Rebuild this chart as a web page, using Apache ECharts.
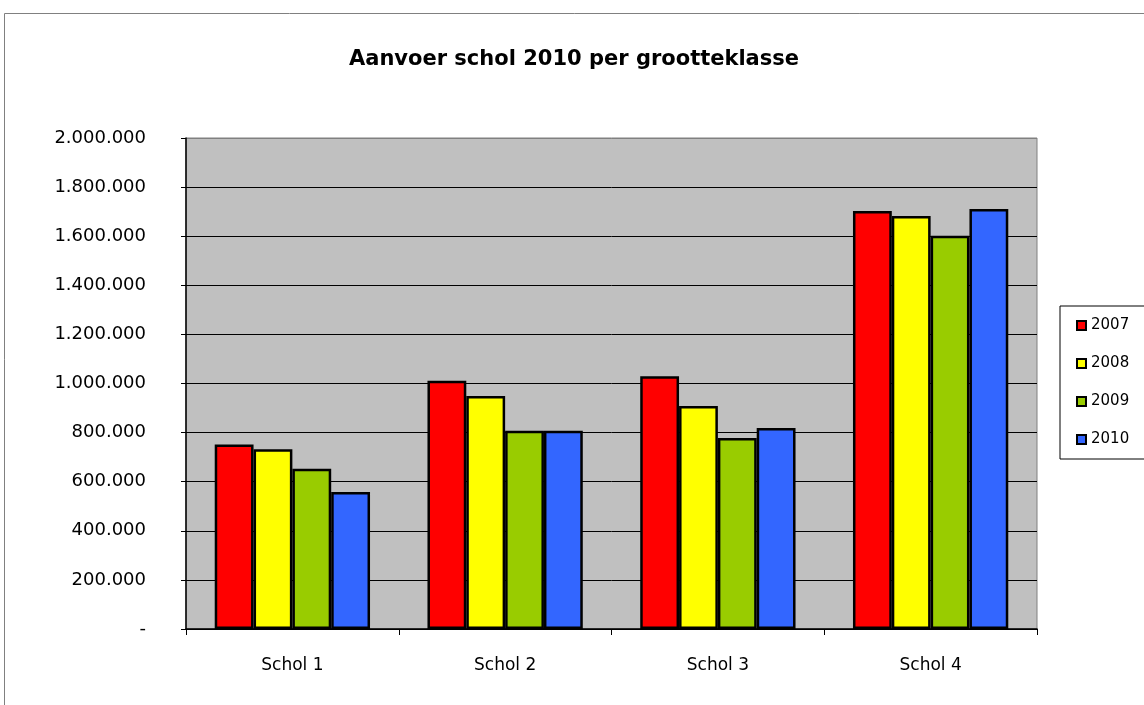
<!DOCTYPE html>
<html>
<head>
<meta charset="utf-8">
<script src="https://cdn.jsdelivr.net/npm/echarts@6/dist/echarts.min.js"></script>
<style>
html, body { margin: 0; padding: 0; background: #fff; }
#chart { width: 1144px; height: 705px; }
</style>
</head>
<body>
<div id="chart"></div>
<script>
var categories = ['Schol 1', 'Schol 2', 'Schol 3', 'Schol 4'];
var years = ['2007', '2008', '2009', '2010'];
var v2007 = [752000, 1011000, 1030000, 1703000];
var v2008 = [732000, 949000, 908000, 1682000];
var v2009 = [653000, 808000, 778000, 1602000];
var v2010 = [558000, 808000, 819000, 1711000];
var colors = ['#FF0000', '#FFFF00', '#99CC00', '#3366FF'];

var font = 'DejaVu Sans';
var values = [v2007, v2008, v2009, v2010];

// 1234567 -> "1.234.567", 0 -> "-"
function dutch(v) {
    if (v === 0) return '-';
    return String(v).replace(/\B(?=(\d{3})+(?!\d))/g, '.');
}

var series = [];
for (var i = 0; i < years.length; i++) {
    series.push({
        name: years[i],
        type: 'bar',
        data: values[i],
        barGap: '0%',
        barCategoryGap: '27%',
        itemStyle: {
            color: colors[i],
            borderColor: '#000',
            borderWidth: 2.5
        }
    });
}

// gridlines black, except the top one which is the grey plot border
var gridColors = [];
for (var k = 0; k < 10; k++) gridColors.push('#000');
gridColors.push('#808080');

var myChart = echarts.init(document.getElementById('chart'));
var option = {
    backgroundColor: '#fff',
    animation: false,
    title: {
        text: 'Aanvoer schol 2010 per grootteklasse',
        left: 569,
        textAlign: 'center',
        top: 44,
        textStyle: {
            color: '#000',
            fontFamily: font,
            fontWeight: 'bold',
            fontSize: 21
        }
    },
    graphic: [{
        type: 'rect',
        shape: { x: 4.5, y: 13.5, width: 1160, height: 720 },
        style: { fill: 'none', stroke: '#808080', lineWidth: 1 },
        silent: true
    }],
    legend: {
        orient: 'vertical',
        left: 1060,
        top: 306,
        padding: [12, 30, 12, 16],
        itemGap: 23,
        itemWidth: 9,
        itemHeight: 9,
        icon: 'rect',
        borderColor: '#000',
        borderWidth: 1,
        backgroundColor: '#fff',
        textStyle: {
            color: '#000',
            fontFamily: font,
            fontSize: 15
        },
        data: years
    },
    grid: {
        left: 186,
        right: 107,
        top: 138,
        bottom: 76,
        show: true,
        backgroundColor: '#C0C0C0',
        borderColor: '#808080',
        borderWidth: 1
    },
    xAxis: {
        type: 'category',
        data: categories,
        axisLine: { lineStyle: { color: '#000', width: 1.5 } },
        axisTick: { show: true, length: 6, lineStyle: { color: '#000' } },
        axisLabel: {
            color: '#000',
            fontFamily: font,
            fontSize: 17,
            margin: 28
        }
    },
    yAxis: {
        type: 'value',
        min: 0,
        max: 2000000,
        interval: 200000,
        axisLine: { show: true, lineStyle: { color: '#000', width: 1.5 } },
        axisTick: { show: true, length: 5, lineStyle: { color: '#000' } },
        splitLine: { lineStyle: { color: gridColors, width: 1 } },
        axisLabel: {
            color: '#000',
            fontFamily: font,
            fontSize: 18,
            margin: 40,
            formatter: dutch
        }
    },
    series: series
};
myChart.setOption(option);
</script>
</body>
</html>
